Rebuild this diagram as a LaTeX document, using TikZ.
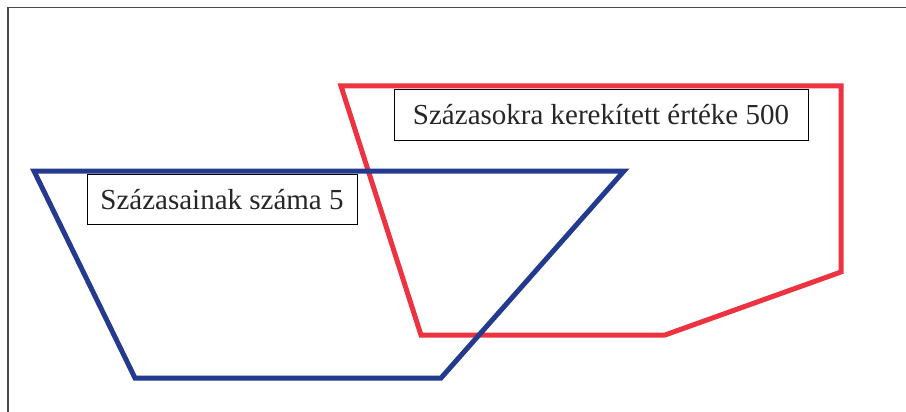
\documentclass[tikz,border=0pt]{standalone}
\usepackage{fontspec}
\setmainfont{Liberation Serif}
\usetikzlibrary{positioning}

\definecolor{setblue}{HTML}{243A8F}
\definecolor{setred}{HTML}{EE3340}
\definecolor{framegray}{HTML}{4A4A4A}

\tikzset{
  setline/.style={line width=5pt, miter limit=10, line join=miter},
  labelbox/.style={draw=black, line width=0.9pt, fill=white, text=black!85,
    font=\fontsize{29}{32}\selectfont, inner sep=0pt, anchor=center}
}

\begin{document}
\begin{tikzpicture}[x=1pt, y=-1pt]
  \useasboundingbox (0,0) rectangle (906,412);
  % Frame
  \draw[framegray, line width=1.6pt] (8,412) -- (8,7.5) -- (906,7.5);
  % Rounded to hundreds
  \draw[setline, setred] (341,86) -- (841,86) -- (841,272) -- (665,335)
    -- (421,335) -- cycle;
  % Hundreds digit
  \draw[setline, setblue] (34,171) -- (624,171) -- (441,378) -- (135,378)
    -- cycle;
  % Labels
  \node[labelbox, minimum width=270pt, minimum height=50pt] (digit)
    at (222,199.5) {Százasainak száma 5};
  \node[labelbox, minimum width=414pt, minimum height=51pt] (rounded)
    at (601,114.5) {Százasokra kerekített értéke 500};
\end{tikzpicture}
\end{document}
